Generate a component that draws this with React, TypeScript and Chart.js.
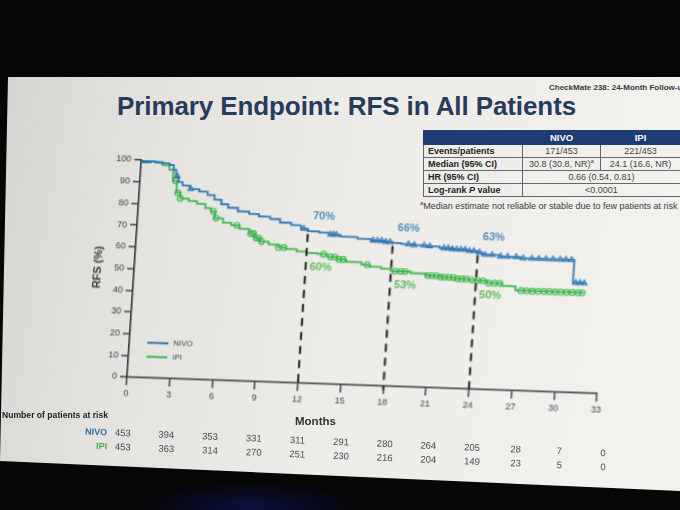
import React, { useEffect, useRef } from 'react';
import { Chart, registerables } from 'chart.js';

Chart.register(...registerables);

// ---------- data ----------
const seriesNames = ['NIVO', 'IPI'];

const nivoMonths = [0, 0.5, 1.0, 1.5, 2.0, 2.3, 2.5, 2.7, 3.0, 3.5, 4.2, 4.8, 5.3, 5.8, 6.3, 7.0, 7.8, 8.5, 9.3, 10.0, 10.8, 11.5, 12.0, 12.8, 13.5, 14.3, 15.5, 16.5, 17.5, 18.0, 18.6, 19.5, 20.5, 21.3, 22.2, 23.2, 24.0, 24.3, 25.5, 27.0, 30.8, 31.7];
const nivoRfs = [100, 99.6, 99.3, 98.9, 98.2, 96, 93, 90.5, 89, 87.5, 86.5, 85, 83, 81, 79.5, 78, 77, 76, 75, 73.5, 72.5, 71, 70, 69.5, 68.8, 68, 67.3, 66.8, 66.3, 66, 65.6, 65.3, 65, 64.4, 64, 63.5, 63, 62, 61.5, 61, 50.5, 50.5];

const ipiMonths = [0, 0.5, 1.0, 1.5, 2.0, 2.3, 2.6, 2.9, 3.5, 4.1, 4.7, 5.1, 5.4, 6.0, 6.6, 7.2, 7.9, 8.3, 8.7, 9.3, 10.0, 10.5, 11.3, 12.0, 12.8, 13.5, 14.2, 14.8, 15.9, 16.5, 17.3, 18.0, 19.4, 20.5, 21.5, 22.5, 23.5, 24.0, 24.8, 25.8, 26.8, 31.6];
const ipiRfs = [100, 99.5, 99, 98, 96, 91, 85.5, 83, 82, 80.8, 79, 77.5, 74.5, 72.5, 71.5, 70, 68, 66, 64.5, 63.3, 62, 61.5, 60.5, 60, 59.6, 58.5, 57.5, 56.5, 55.5, 54.7, 54, 53, 52.3, 51.5, 51, 50.5, 50.2, 50, 49, 48, 46, 46];

const nivoCensorMonths = [0.2, 0.3, 0.4, 0.5, 2.6, 3.6, 11.7, 13.6, 13.8, 14.0, 16.6, 16.9, 17.2, 17.5, 17.8, 19.1, 19.5, 20.2, 20.6, 21.6, 21.9, 22.2, 22.5, 22.8, 23.1, 23.4, 23.7, 24.1, 24.5, 25.0, 25.6, 26.1, 26.7, 27.2, 27.8, 28.3, 28.8, 29.3, 29.8, 30.2, 30.6, 31.0, 31.3, 31.6];
const ipiCensorMonths = [0.2, 0.4, 2.5, 2.7, 2.9, 5.3, 5.5, 7.0, 8.0, 8.2, 8.4, 8.6, 8.8, 10.0, 10.4, 13.2, 13.7, 14.0, 14.3, 14.6, 16.3, 18.3, 18.7, 19.0, 20.6, 20.9, 21.2, 21.5, 21.8, 22.1, 22.4, 22.7, 23.0, 23.3, 23.7, 24.1, 24.5, 24.9, 25.3, 25.7, 27.2, 27.6, 28.0, 28.4, 28.8, 29.2, 29.6, 30.0, 30.4, 30.8, 31.2, 31.5];

const landmarkMonths = [12, 18, 24];
const nivoLandmarkRfs = [70, 66, 63];
const ipiLandmarkRfs = [60, 53, 50];

const riskMonths = [0, 3, 6, 9, 12, 15, 18, 21, 24, 27, 30, 33];
const nivoAtRisk = [453, 394, 353, 331, 311, 291, 280, 264, 205, 28, 7, 0];
const ipiAtRisk = [453, 363, 314, 270, 251, 230, 216, 204, 149, 23, 5, 0];

const tableColumns = ['NIVO', 'IPI'];
const tableRowLabels = ['Events/patients', 'Median (95% CI)', 'HR (95% CI)', 'Log-rank P value'];
const nivoTableValues = ['171/453', '30.8 (30.8, NR)'];
const ipiTableValues = ['221/453', '24.1 (16.6, NR)'];
const sharedTableValues = ['0.66 (0.54, 0.81)', '<0.0001'];

// ---------- styles ----------
const NIVO_COLOR = '#2d76b1';
const IPI_COLOR = '#3cb44b';
const NIVO_LABEL = '#4d8cbf';
const IPI_LABEL = '#5bb85b';
const FONT = '"Liberation Sans", Arial, sans-serif';

function stepAt(months: number[], values: number[], t: number) {
  let v = values[0];
  for (let i = 0; i < months.length; i++) if (months[i] <= t) v = values[i];
  return v;
}

const overlayPlugin = {
  id: 'kmOverlay',
  afterDatasetsDraw(chart: any) {
    const { ctx, chartArea, scales } = chart;
    const x = scales.x;
    const y = scales.y;
    ctx.save();
    // landmark dashed lines
    ctx.setLineDash([8, 6]);
    ctx.lineWidth = 2;
    ctx.strokeStyle = '#1c1c1c';
    landmarkMonths.forEach((m, i) => {
      const px = x.getPixelForValue(m);
      ctx.beginPath();
      ctx.moveTo(px, y.getPixelForValue(nivoLandmarkRfs[i]) + 3);
      ctx.lineTo(px, y.getPixelForValue(0) + 4);
      ctx.stroke();
    });
    ctx.setLineDash([]);
    // landmark labels
    ctx.font = `bold 11px ${FONT}`;
    ctx.textAlign = 'left';
    ctx.textBaseline = 'middle';
    landmarkMonths.forEach((m, i) => {
      const px = x.getPixelForValue(m) + 4;
      ctx.fillStyle = NIVO_LABEL;
      ctx.fillText(`${nivoLandmarkRfs[i]}%`, px, y.getPixelForValue(nivoLandmarkRfs[i]) - 15);
      ctx.fillStyle = IPI_LABEL;
      ctx.fillText(`${ipiLandmarkRfs[i]}%`, px, y.getPixelForValue(ipiLandmarkRfs[i]) + 14);
    });
    // legend
    const colors = [NIVO_COLOR, IPI_COLOR];
    ctx.font = `8px ${FONT}`;
    seriesNames.forEach((name, i) => {
      const ly = chartArea.bottom - 35 + i * 14;
      ctx.strokeStyle = colors[i];
      ctx.lineWidth = 2;
      ctx.beginPath();
      ctx.moveTo(chartArea.left + 18, ly);
      ctx.lineTo(chartArea.left + 39, ly);
      ctx.stroke();
      ctx.fillStyle = '#444';
      ctx.fillText(name, chartArea.left + 44, ly);
    });
    ctx.restore();
  },
};

function KMChart() {
  const ref = useRef<HTMLCanvasElement | null>(null);
  useEffect(() => {
    if (!ref.current) return;
    Chart.defaults.font.family = FONT;
    const axisColor = '#333';
    const chart = new Chart(ref.current, {
      type: 'line',
      data: {
        datasets: [
          {
            label: seriesNames[0],
            data: nivoMonths.map((m, i) => ({ x: m, y: nivoRfs[i] })),
            stepped: true,
            borderColor: NIVO_COLOR,
            borderWidth: 1.8,
            pointRadius: 0,
            fill: false,
          },
          {
            label: seriesNames[0] + ' censored',
            data: nivoCensorMonths.map((m) => ({ x: m, y: stepAt(nivoMonths, nivoRfs, m) })),
            showLine: false,
            pointStyle: 'triangle',
            pointRadius: 3.2,
            pointBorderWidth: 1.1,
            pointBorderColor: NIVO_COLOR,
            pointBackgroundColor: 'rgba(0,0,0,0)',
          },
          {
            label: seriesNames[1],
            data: ipiMonths.map((m, i) => ({ x: m, y: ipiRfs[i] })),
            stepped: true,
            borderColor: IPI_COLOR,
            borderWidth: 1.8,
            pointRadius: 0,
            fill: false,
          },
          {
            label: seriesNames[1] + ' censored',
            data: ipiCensorMonths.map((m) => ({ x: m, y: stepAt(ipiMonths, ipiRfs, m) })),
            showLine: false,
            pointStyle: 'circle',
            pointRadius: 2.8,
            pointBorderWidth: 1.1,
            pointBorderColor: IPI_COLOR,
            pointBackgroundColor: 'rgba(0,0,0,0)',
          },
        ],
      } as any,
      options: {
        animation: false,
        responsive: false,
        layout: { padding: { top: 20, left: 21, right: 42, bottom: 0 } },
        plugins: { legend: { display: false }, tooltip: { enabled: false } },
        scales: {
          x: {
            type: 'linear',
            min: 0,
            max: 33,
            ticks: { stepSize: 3, color: '#444', font: { size: 9 }, padding: 3, maxRotation: 0 },
            grid: { drawOnChartArea: false, drawTicks: true, tickLength: 8, color: axisColor, lineWidth: 1.4 },
            border: { color: axisColor, width: 1.6 },
            afterFit: (s: any) => { s.height = 53; },
          },
          y: {
            type: 'linear',
            min: 0,
            max: 100,
            ticks: { stepSize: 10, color: '#444', font: { size: 9 }, padding: 3 },
            grid: { drawOnChartArea: false, drawTicks: true, tickLength: 7, color: axisColor, lineWidth: 1.4 },
            border: { color: axisColor, width: 1.6 },
            title: { display: true, text: 'RFS (%)', color: '#333', font: { size: 11, weight: 'bold' }, padding: { top: 4, bottom: 4 } },
            afterFit: (s: any) => { s.width = 47; },
          },
        },
      } as any,
      plugins: [overlayPlugin],
    });
    return () => chart.destroy();
  }, []);
  return (
    <div
      style={{
        position: 'absolute',
        left: 59,
        top: 140,
        width: 580,
        height: 290,
        transform: 'matrix(1, 0.035, -0.066, 1, 0, 0)',
        transformOrigin: '68px 237px',
      }}
    >
      <canvas ref={ref} width={580} height={290} style={{ width: 580, height: 290, display: 'block' }} />
    </div>
  );
}

function AtRiskRow({ label, color, values, top }: { label: string; color: string; values: number[]; top: number }) {
  return (
    <div
      style={{
        position: 'absolute',
        left: 0,
        top,
        width: 680,
        height: 12,
        transform: 'rotate(2.38deg)',
        transformOrigin: '122px 6px',
        fontSize: 9.5,
        lineHeight: '12px',
        color: '#4a4a4a',
      }}
    >
      <span style={{ position: 'absolute', left: 50, width: 57, textAlign: 'right', color, fontWeight: 'bold', fontSize: 9 }}>{label}</span>
      {values.map((v, i) => (
        <span key={riskMonths[i]} style={{ position: 'absolute', left: 100.7 + i * 43.7, width: 44, textAlign: 'center' }}>
          {v}
        </span>
      ))}
    </div>
  );
}

export default function App() {
  useEffect(() => {
    document.body.style.margin = '0';
  }, []);
  const cell: React.CSSProperties = {
    border: '1px solid #666',
    padding: '0 4px',
    height: 12,
    lineHeight: '12px',
    whiteSpace: 'nowrap',
    overflow: 'hidden',
  };
  const labelCell: React.CSSProperties = { ...cell, fontWeight: 'bold', color: '#222', textAlign: 'left' };
  const valueCell: React.CSSProperties = { ...cell, color: '#444', textAlign: 'center' };
  const renderLabel = (t: string) =>
    t.startsWith('Log-rank P') ? (
      <>
        Log-rank <i>P</i>
        {t.slice('Log-rank P'.length)}
      </>
    ) : (
      t
    );
  return (
    <div
      style={{
        position: 'fixed',
        left: 0,
        top: 0,
        width: 680,
        height: 510,
        overflow: 'hidden',
        background: 'radial-gradient(ellipse 110px 26px at 250px 508px, #0b1040 0%, rgba(0,0,0,0) 100%), #060606',
        fontFamily: FONT,
      }}
    >
      {/* slide */}
      <div
        style={{
          position: 'absolute',
          left: 0,
          top: 0,
          width: 680,
          height: 510,
          clipPath: 'polygon(8px 77px, 680px 77px, 680px 491px, 0px 461px)',
          background: 'linear-gradient(100deg, #d6d4d0 0%, #e4e2de 22%, #edece8 50%, #f3f2ef 100%)',
        }}
      />
      <div style={{ position: 'absolute', left: 549, top: 83, fontSize: 8, lineHeight: '10px', fontWeight: 'bold', color: '#3a3a3a', whiteSpace: 'nowrap' }}>
        CheckMate 238: 24-Month Follow-up
      </div>
      <div style={{ position: 'absolute', left: 117, top: 93, fontSize: 26, lineHeight: '26px', fontWeight: 'bold', color: '#283b5c', whiteSpace: 'nowrap', letterSpacing: -0.1 }}>
        Primary Endpoint: RFS in All Patients
      </div>

      {/* summary table */}
      <table
        style={{
          position: 'absolute',
          left: 423,
          top: 130,
          width: 257,
          borderCollapse: 'collapse',
          tableLayout: 'fixed',
          fontSize: 9,
          border: '1.5px solid #1e3c70',
        }}
      >
        <colgroup>
          <col style={{ width: 99 }} />
          <col style={{ width: 78 }} />
          <col style={{ width: 80 }} />
        </colgroup>
        <tbody>
          <tr style={{ background: '#1f3d72' }}>
            <td style={{ ...cell, height: 13, border: '1px solid #1f3d72' }} />
            {tableColumns.map((c) => (
              <td key={c} style={{ ...cell, height: 13, color: '#fff', fontWeight: 'bold', textAlign: 'center', border: '1px solid #1f3d72', fontSize: 9.5 }}>
                {c}
              </td>
            ))}
          </tr>
          {tableRowLabels.map((lab, r) => (
            <tr key={lab}>
              <td style={labelCell}>{renderLabel(lab)}</td>
              {r < nivoTableValues.length ? (
                <>
                  <td style={valueCell}>
                    {nivoTableValues[r]}
                    {r === 1 ? <sup style={{ fontSize: 6, lineHeight: 0 }}>a</sup> : null}
                  </td>
                  <td style={valueCell}>{ipiTableValues[r]}</td>
                </>
              ) : (
                <td colSpan={2} style={valueCell}>
                  {sharedTableValues[r - nivoTableValues.length]}
                </td>
              )}
            </tr>
          ))}
        </tbody>
      </table>
      <div style={{ position: 'absolute', left: 420, top: 201, fontSize: 9, lineHeight: '11px', color: '#3c3c3c', whiteSpace: 'nowrap' }}>
        <sup style={{ fontSize: 6, lineHeight: 0 }}>a</sup>Median estimate not reliable or stable due to few patients at risk
      </div>

      <KMChart />

      <div style={{ position: 'absolute', left: 295, top: 414, fontSize: 11.5, lineHeight: '14px', fontWeight: 'bold', color: '#333' }}>Months</div>
      <div style={{ position: 'absolute', left: 2, top: 410, fontSize: 8.6, lineHeight: '11px', fontWeight: 'bold', color: '#222', whiteSpace: 'nowrap' }}>
        Number of patients at risk
      </div>
      <AtRiskRow label={seriesNames[0]} color="#2f6fa8" values={nivoAtRisk} top={427} />
      <AtRiskRow label={seriesNames[1]} color="#4caf50" values={ipiAtRisk} top={441} />
    </div>
  );
}
